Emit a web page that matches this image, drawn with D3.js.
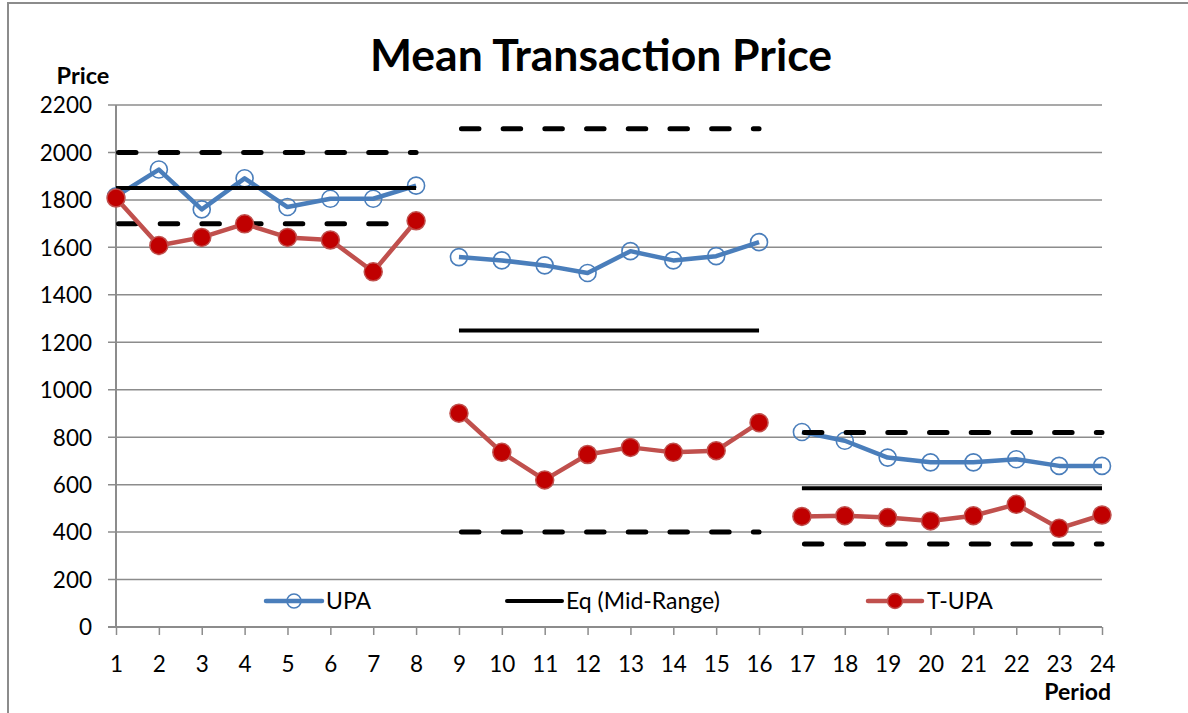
<!DOCTYPE html>
<html><head><meta charset="utf-8">
<script src="https://cdn.jsdelivr.net/npm/d3@7"></script>
<style>body{margin:0;background:#fff}svg{display:block}text{font-family:Lato,"Open Sans",sans-serif}</style>
</head><body><svg id="c" width="1188" height="713"></svg>
<script>
const periods = d3.range(1, 25);
const upa = [1815,1928,1760,1891,1770,1805,1805,1860, 1559,1545,1524,1492,1584,1545,1563,1622, 822,785,714,694,694,707,679,679];
const tupa = [1808,1608,1642,1699,1642,1631,1497,1712, 901,736,620,727,757,736,743,861, 466,469,461,447,469,517,416,472];
const blocks = [[1,8],[9,16],[17,24]];
const eqMid = [1850,1250,585];
const eqHigh = [2000,2100,820];
const eqLow = [1700,400,350];
const yTicks = [0,200,400,600,800,1000,1200,1400,1600,1800,2000,2200];

const svg = d3.select("#c");
const x = d3.scaleLinear().domain([1,24]).range([116,1102]);
const y = d3.scaleLinear().domain([0,2200]).range([627,105]);

// border
svg.append("path").attr("d","M8,713V3H1188").attr("fill","none").attr("stroke","#8c8c8c").attr("stroke-width",2);

// gridlines
svg.append("g").selectAll("line").data(yTicks.filter(d=>d>0)).join("line")
  .attr("x1",108).attr("x2",1102).attr("y1",d=>y(d)).attr("y2",d=>y(d))
  .attr("stroke","#8c8c8c").attr("stroke-width",1.5);

// axes
const yAxis = svg.append("g").attr("transform","translate(116,0)")
  .call(d3.axisLeft(y).tickValues(yTicks).tickFormat(d3.format("d")).tickSize(0).tickPadding(24));
yAxis.select(".domain").remove();
yAxis.selectAll("text").attr("font-size",22.5).attr("fill","#000").attr("dy","0.35em");
svg.append("line").attr("x1",116).attr("x2",116).attr("y1",105).attr("y2",627).attr("stroke","#8c8c8c").attr("stroke-width",2);
svg.append("line").attr("x1",108).attr("x2",1102).attr("y1",627).attr("y2",627).attr("stroke","#8c8c8c").attr("stroke-width",2);
const xAxis = svg.append("g").attr("transform","translate(0,627)")
  .call(d3.axisBottom(x).tickValues(periods).tickFormat(d3.format("d")).tickSize(8).tickPadding(21));
xAxis.select(".domain").remove();
xAxis.selectAll("line").attr("stroke","#8c8c8c").attr("stroke-width",1.5);
xAxis.selectAll("text").attr("font-size",22.5).attr("fill","#000");

const line = d3.line().x(d=>x(d[0])).y(d=>y(d[1]));
const seg = (vals,[a,b]) => periods.filter(p=>p>=a&&p<=b).map(p=>[p,vals[p-1]]);

// UPA
const gU = svg.append("g");
blocks.forEach(bk=>{
  gU.append("path").attr("d",line(seg(upa,bk))).attr("fill","none").attr("stroke","#4a7ebb").attr("stroke-width",4.5).attr("stroke-linejoin","round");
});
gU.selectAll("circle").data(periods).join("circle")
  .attr("cx",d=>x(d)).attr("cy",d=>y(upa[d-1])).attr("r",8.5)
  .attr("fill","none").attr("stroke","#4a7ebb").attr("stroke-width",1.6);

// Eq lines
const gE = svg.append("g");
blocks.forEach((bk,i)=>{
  gE.append("line").attr("x1",x(bk[0])).attr("x2",x(bk[1])).attr("y1",y(eqMid[i])).attr("y2",y(eqMid[i]))
    .attr("stroke","#000").attr("stroke-width",4);
  [eqHigh[i],eqLow[i]].forEach(v=>{
    gE.append("line").attr("x1",x(bk[0])+2.5).attr("x2",x(bk[1])).attr("y1",y(v)).attr("y2",y(v))
      .attr("stroke","#000").attr("stroke-width",5).attr("stroke-linecap","round")
      .attr("stroke-dasharray","17.5,24.2");
  });
});

// T-UPA
const gT = svg.append("g");
blocks.forEach(bk=>{
  gT.append("path").attr("d",line(seg(tupa,bk))).attr("fill","none").attr("stroke","#c0504d").attr("stroke-width",4.5).attr("stroke-linejoin","round");
});
gT.selectAll("circle").data(periods).join("circle")
  .attr("cx",d=>x(d)).attr("cy",d=>y(tupa[d-1])).attr("r",9)
  .attr("fill","#c00000").attr("stroke","#c0504d").attr("stroke-width",1.5);

// title & axis titles
svg.append("text").attr("x",601).attr("y",71).attr("text-anchor","middle").attr("font-size",44.5).attr("font-weight","bold").text("Mean Transaction Price");
svg.append("text").attr("x",83).attr("y",84).attr("text-anchor","middle").attr("font-size",23.5).attr("font-weight","bold").text("Price");
svg.append("text").attr("x",1111).attr("y",700).attr("text-anchor","end").attr("font-size",23).attr("font-weight","bold").text("Period");

// legend
const legY = 601;
const leg = svg.append("g");
leg.append("line").attr("x1",266).attr("x2",322).attr("y1",legY).attr("y2",legY).attr("stroke","#4a7ebb").attr("stroke-width",4.5).attr("stroke-linecap","round");
leg.append("circle").attr("cx",294).attr("cy",legY).attr("r",7).attr("fill","none").attr("stroke","#4a7ebb").attr("stroke-width",1.6);
leg.append("text").attr("x",326).attr("y",legY).attr("dy","0.36em").attr("font-size",23).text("UPA");
leg.append("line").attr("x1",507).attr("x2",562).attr("y1",legY).attr("y2",legY).attr("stroke","#000").attr("stroke-width",4).attr("stroke-linecap","round");
leg.append("text").attr("x",566).attr("y",legY).attr("dy","0.36em").attr("font-size",23).text("Eq (Mid-Range)");
leg.append("line").attr("x1",868).attr("x2",922).attr("y1",legY).attr("y2",legY).attr("stroke","#c0504d").attr("stroke-width",4.5).attr("stroke-linecap","round");
leg.append("circle").attr("cx",895).attr("cy",legY).attr("r",7.5).attr("fill","#c00000").attr("stroke","#c0504d").attr("stroke-width",1.5);
leg.append("text").attr("x",927).attr("y",legY).attr("dy","0.36em").attr("font-size",23).text("T-UPA");
</script></body></html>
